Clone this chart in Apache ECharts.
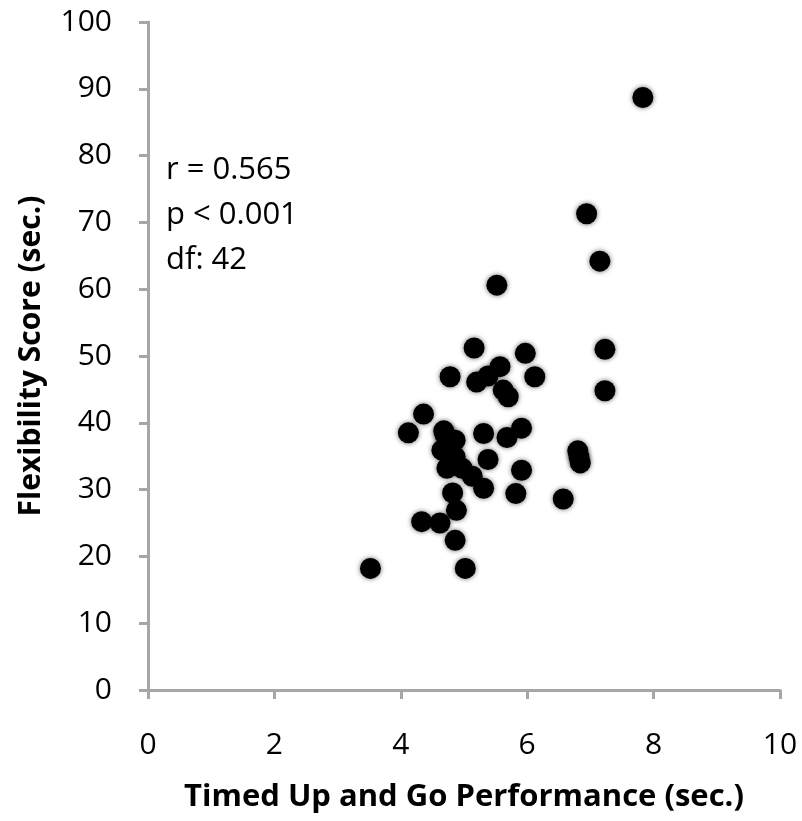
<!DOCTYPE html>
<html>
<head>
    <meta charset="utf-8" />
    <title>Flexibility vs Timed Up and Go</title>
    <script src="https://cdn.jsdelivr.net/npm/echarts@6/dist/echarts.min.js"></script>
    <style>
        * {
            margin: 0;
            padding: 0;
            box-sizing: border-box
        }

        body {
            background: #ffffff;
            width: 802px;
            height: 821px;
            overflow: hidden
        }

        #scatter-chart {
            width: 802px;
            height: 821px
        }
    </style>
</head>
<body>
    <div id="scatter-chart"></div>

    <script>
        // Timed Up and Go (sec.) vs Flexibility score
        const tugTimes = [
            3.52, 5.02, 4.86, 4.33, 4.62, 4.88, 4.82, 4.36, 4.12, 5.31,
            5.68, 5.91, 5.38, 5.91, 5.82, 5.31, 6.57, 6.80, 6.82, 6.84,
            5.16, 5.97, 4.78, 5.20, 5.38, 5.57, 5.62, 5.70, 6.12, 5.52,
            7.83, 6.94, 7.15, 7.23, 7.23, 4.70, 4.86, 4.65, 4.86, 4.73,
            4.97, 5.13, 4.68, 4.78
        ];
        const flexScores = [
            18.2, 18.2, 22.4, 25.2, 25.0, 26.9, 29.5, 41.3, 38.5, 38.4,
            37.8, 39.2, 34.5, 32.9, 29.4, 30.2, 28.6, 35.8, 34.9, 34.0,
            51.2, 50.4, 46.9, 46.1, 47.0, 48.4, 44.9, 43.9, 46.9, 60.6,
            88.7, 71.3, 64.2, 51.0, 44.8, 38.2, 37.4, 35.9, 34.9, 33.2,
            33.2, 32.0, 38.8, 36.5
        ];
        const statLines = ['r = 0.565', 'p < 0.001', 'df: 42'];

        const chart = echarts.init(document.getElementById('scatter-chart'));
        const axisGray = '#a6a6a6';
        const font = "'Open Sans', 'Noto Sans', sans-serif";

        const points = tugTimes.map((x, i) => [x, flexScores[i]]);

        const option = {
            animation: false,
            textStyle: { fontFamily: font },
            grid: { left: 148, right: 22, top: 22, bottom: 131 },
            xAxis: {
                type: 'value',
                min: 0,
                max: 10,
                interval: 2,
                name: 'Timed Up and Go Performance (sec.)',
                nameLocation: 'middle',
                nameGap: 92,
                nameTextStyle: { color: '#000', fontSize: 31, fontWeight: 'bold', fontFamily: font },
                axisLine: { lineStyle: { color: axisGray, width: 3 } },
                axisTick: { length: 9, lineStyle: { color: axisGray, width: 3 } },
                axisLabel: { color: '#000', fontSize: 30, margin: 40, fontFamily: font },
                splitLine: { show: false }
            },
            yAxis: {
                type: 'value',
                min: 0,
                max: 100,
                interval: 10,
                name: 'Flexibility Score (sec.)',
                nameLocation: 'middle',
                nameGap: 102,
                nameTextStyle: { color: '#000', fontSize: 30, fontWeight: 'bold', fontFamily: font },
                axisLine: { show: true, lineStyle: { color: axisGray, width: 3 } },
                axisTick: { show: true, length: 9, lineStyle: { color: axisGray, width: 3 } },
                axisLabel: { color: '#000', fontSize: 30, margin: 36, fontFamily: font },
                splitLine: { show: false }
            },
            graphic: [{
                type: 'text',
                left: 166,
                top: 148,
                style: {
                    text: statLines.join('\n'),
                    fill: '#000',
                    font: "31px 'Open Sans', sans-serif",
                    lineHeight: 45
                }
            }],
            series: [{
                type: 'scatter',
                data: points,
                symbol: 'circle',
                symbolSize: 21,
                itemStyle: {
                    color: '#000',
                    opacity: 1,
                    shadowBlur: 5,
                    shadowColor: 'rgba(0,0,0,0.6)'
                }
            }]
        };

        chart.setOption(option);
    </script>
</body>
</html>
